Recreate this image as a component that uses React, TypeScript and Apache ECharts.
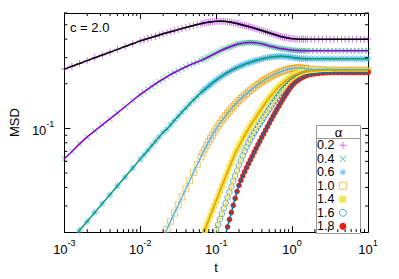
import React, { useEffect, useRef } from 'react';
import * as echarts from 'echarts';

// log10(t) sample positions
const LOG10_T = [
  -3.0, -2.9, -2.8, -2.7, -2.6, -2.5, -2.4, -2.3, -2.2, -2.1, -2.0,
  -1.95, -1.9, -1.85, -1.8, -1.75, -1.7, -1.65, -1.6, -1.55, -1.5, -1.45, -1.4, -1.35, -1.3, -1.25, -1.2,
  -1.175, -1.15, -1.125, -1.1, -1.075, -1.05, -1.025, -1.0, -0.975, -0.95, -0.925, -0.9, -0.875, -0.85,
  -0.825, -0.8, -0.775, -0.75, -0.725, -0.7, -0.675, -0.65, -0.625, -0.6, -0.575, -0.55, -0.525, -0.5,
  -0.475, -0.45, -0.425, -0.4, -0.375, -0.35, -0.325, -0.3, -0.275, -0.25, -0.225, -0.2, -0.175, -0.15,
  -0.125, -0.1, -0.075, -0.05, -0.025, 0, 0.025, 0.05, 0.075, 0.1, 0.125, 0.15, 0.175, 0.2,
  0.25, 0.3, 0.35, 0.4, 0.45, 0.5, 0.55, 0.6, 0.65, 0.7, 0.75, 0.8, 0.85, 0.9, 0.95, 1.0,
];

// log10(MSD), one array per alpha
const LOG10_MSD_A02 = [
  -0.600, -0.581, -0.562, -0.543, -0.524, -0.505, -0.486, -0.467, -0.448, -0.429, -0.410,
  -0.402, -0.394, -0.386, -0.378, -0.370, -0.362, -0.355, -0.348, -0.341, -0.334, -0.327, -0.320, -0.313, -0.306, -0.300, -0.294,
  -0.291, -0.288, -0.286, -0.284, -0.282, -0.280, -0.279, -0.278, -0.277, -0.277, -0.277, -0.278, -0.279, -0.280,
  -0.282, -0.284, -0.287, -0.290, -0.293, -0.296, -0.299, -0.303, -0.306, -0.310, -0.313, -0.317, -0.320, -0.324,
  -0.328, -0.332, -0.336, -0.340, -0.344, -0.348, -0.352, -0.356, -0.360, -0.364, -0.368, -0.372, -0.376, -0.380,
  -0.383, -0.386, -0.389, -0.391, -0.393, -0.395, -0.396, -0.397, -0.398, -0.398, -0.398, -0.398, -0.398, -0.398,
  -0.398, -0.398, -0.398, -0.398, -0.398, -0.398, -0.398, -0.398, -0.398, -0.398, -0.398, -0.398, -0.398, -0.398, -0.398, -0.398,
];
const LOG10_MSD_A04 = [
  -1.205, -1.155, -1.104, -1.057, -1.017, -0.976, -0.936, -0.895, -0.854, -0.812, -0.771,
  -0.753, -0.735, -0.717, -0.699, -0.683, -0.668, -0.652, -0.636, -0.623, -0.610, -0.597, -0.584, -0.573, -0.562, -0.552, -0.541,
  -0.536, -0.530, -0.524, -0.517, -0.511, -0.504, -0.498, -0.491, -0.485, -0.478, -0.472, -0.466, -0.461, -0.456,
  -0.451, -0.446, -0.441, -0.437, -0.433, -0.430, -0.427, -0.425, -0.423, -0.422, -0.421, -0.421, -0.421, -0.422,
  -0.423, -0.425, -0.427, -0.430, -0.433, -0.436, -0.440, -0.444, -0.447, -0.450, -0.453, -0.456, -0.459, -0.461,
  -0.463, -0.465, -0.467, -0.469, -0.471, -0.472, -0.473, -0.474, -0.475, -0.476, -0.477, -0.477, -0.477, -0.477,
  -0.477, -0.477, -0.477, -0.477, -0.477, -0.477, -0.477, -0.477, -0.477, -0.477, -0.477, -0.477, -0.477, -0.477, -0.477, -0.477,
];
const LOG10_MSD_A06 = [
  -1.812, -1.749, -1.687, -1.627, -1.567, -1.507, -1.447, -1.387, -1.327, -1.267, -1.207,
  -1.177, -1.147, -1.117, -1.087, -1.057, -1.027, -1.005, -0.976, -0.947, -0.918, -0.890, -0.862, -0.835, -0.809, -0.784, -0.760,
  -0.748, -0.737, -0.726, -0.715, -0.704, -0.694, -0.684, -0.674, -0.665, -0.656, -0.647, -0.639, -0.631, -0.623,
  -0.616, -0.609, -0.602, -0.596, -0.590, -0.584, -0.578, -0.573, -0.568, -0.563, -0.558, -0.554, -0.550, -0.546,
  -0.542, -0.538, -0.535, -0.532, -0.529, -0.526, -0.523, -0.521, -0.519, -0.517, -0.516, -0.515, -0.514, -0.514,
  -0.514, -0.515, -0.516, -0.517, -0.519, -0.521, -0.523, -0.525, -0.526, -0.528, -0.529, -0.530, -0.530, -0.531,
  -0.531, -0.531, -0.531, -0.531, -0.531, -0.531, -0.531, -0.531, -0.531, -0.531, -0.531, -0.531, -0.531, -0.531, -0.531, -0.531,
];
const LOG10_MSD_A10 = [
  null, null, null, null, null, null, null, null, null, null, null,
  null, null, null, null, -1.789, -1.734, -1.680, -1.625, -1.571, -1.516, -1.462, -1.407, -1.353, -1.298, -1.244, -1.191,
  -1.165, -1.139, -1.114, -1.090, -1.067, -1.045, -1.024, -1.004, -0.985, -0.966, -0.948, -0.931, -0.914, -0.898,
  -0.882, -0.867, -0.852, -0.838, -0.825, -0.812, -0.799, -0.787, -0.776, -0.765, -0.754, -0.743, -0.733, -0.723,
  -0.713, -0.704, -0.695, -0.686, -0.677, -0.669, -0.661, -0.654, -0.647, -0.641, -0.635, -0.629, -0.623, -0.618,
  -0.613, -0.609, -0.605, -0.601, -0.598, -0.596, -0.594, -0.593, -0.592, -0.592, -0.593, -0.594, -0.596, -0.597,
  -0.600, -0.602, -0.604, -0.605, -0.606, -0.607, -0.607, -0.607, -0.607, -0.607, -0.607, -0.607, -0.607, -0.607, -0.607, -0.607,
];
const LOG10_MSD_A14 = [
  null, null, null, null, null, null, null, null, null, null, null,
  null, null, null, null, null, null, null, null, null, null, null, null, null, null, -1.820, -1.753,
  -1.719, -1.685, -1.652, -1.619, -1.586, -1.553, -1.520, -1.488, -1.455, -1.422, -1.389, -1.357, -1.325, -1.293,
  -1.262, -1.231, -1.200, -1.170, -1.144, -1.119, -1.095, -1.071, -1.048, -1.026, -1.004, -0.983, -0.963, -0.944,
  -0.924, -0.904, -0.885, -0.866, -0.847, -0.829, -0.811, -0.795, -0.779, -0.764, -0.749, -0.735, -0.721, -0.708,
  -0.696, -0.685, -0.675, -0.665, -0.656, -0.648, -0.641, -0.635, -0.630, -0.626, -0.622, -0.619, -0.617, -0.615,
  -0.613, -0.612, -0.612, -0.612, -0.612, -0.612, -0.612, -0.612, -0.612, -0.612, -0.612, -0.612, -0.612, -0.612, -0.612, -0.612,
];
const LOG10_MSD_A16 = [
  null, null, null, null, null, null, null, null, null, null, null,
  null, null, null, null, null, null, null, null, null, null, null, null, null, null, null, null,
  null, null, null, null, -1.795, -1.758, -1.722, -1.685, -1.649, -1.612, -1.576, -1.539, -1.503, -1.466,
  -1.430, -1.393, -1.356, -1.319, -1.284, -1.249, -1.215, -1.183, -1.153, -1.125, -1.099, -1.075, -1.052, -1.030,
  -1.009, -0.988, -0.968, -0.948, -0.928, -0.908, -0.889, -0.870, -0.851, -0.832, -0.813, -0.795, -0.777, -0.760,
  -0.744, -0.729, -0.715, -0.702, -0.690, -0.679, -0.669, -0.660, -0.652, -0.645, -0.639, -0.634, -0.630, -0.627,
  -0.623, -0.621, -0.619, -0.618, -0.618, -0.618, -0.618, -0.618, -0.618, -0.618, -0.618, -0.618, -0.618, -0.618, -0.618, -0.618,
];
const LOG10_MSD_A18 = [
  null, null, null, null, null, null, null, null, null, null, null,
  null, null, null, null, null, null, null, null, null, null, null, null, null, null, null, null,
  null, null, null, null, null, null, null, null, null, null, -1.809, -1.760, -1.712, -1.663,
  -1.614, -1.566, -1.518, -1.471, -1.425, -1.384, -1.350, -1.320, -1.292, -1.265, -1.238, -1.212, -1.186, -1.160,
  -1.135, -1.110, -1.085, -1.060, -1.036, -1.012, -0.988, -0.964, -0.940, -0.917, -0.894, -0.871, -0.849, -0.827,
  -0.806, -0.785, -0.765, -0.745, -0.727, -0.711, -0.697, -0.685, -0.675, -0.666, -0.658, -0.652, -0.646, -0.642,
  -0.636, -0.632, -0.629, -0.627, -0.625, -0.624, -0.623, -0.623, -0.623, -0.623, -0.623, -0.623, -0.623, -0.623, -0.623, -0.623,
];

const ALPHA_LABELS = ['0.2', '0.4', '0.6', '1.0', '1.4', '1.6', '1.8'];
const SERIES_DATA = [LOG10_MSD_A02, LOG10_MSD_A04, LOG10_MSD_A06, LOG10_MSD_A10, LOG10_MSD_A14, LOG10_MSD_A16, LOG10_MSD_A18];

// axis ticks (exponents) and minor tick multipliers
const X_MAJOR = [-3, -2, -1, 0, 1];
const X_DECADES = [-3, -2, -1, 0];
const Y_MAJOR = [-1];
const MINOR_K = [2, 3, 4, 5, 6, 7, 8, 9];
const Y_MIN_VAL = 0.02;
const Y_MAX_VAL = 0.6;

const FONT = 'Liberation Sans, Arial, Helvetica, sans-serif';
const PLUS = 'path://M4.3,0h1.4v4.3h4.3v1.4h-4.3v4.3h-1.4v-4.3h-4.3v-1.4h4.3z';
const CROSS = 'path://M1.5,0.5L9.5,8.5L8.5,9.5L0.5,1.5Z M9.5,1.5L1.5,9.5L0.5,8.5L8.5,0.5Z';
const STAR = 'path://M4.3,0h1.4v4.3h4.3v1.4h-4.3v4.3h-1.4v-4.3h-4.3v-1.4h4.3z M2,1L9,8L8,9L1,2Z M9,2L2,9L1,8L8,1Z';

const STYLES = [
  { line: '#000000', symbol: PLUS, size: 7, item: { color: '#9400d3', opacity: 0.55 } },
  { line: '#9400d3', symbol: CROSS, size: 6, item: { color: '#009e73', opacity: 0.5 } },
  { line: '#009e73', symbol: STAR, size: 7, item: { color: '#56b4e9', opacity: 0.75 } },
  { line: '#56b4e9', symbol: 'rect', size: 6, item: { color: 'rgba(0,0,0,0)', borderColor: '#e69f00', borderWidth: 1, opacity: 0.6 } },
  { line: '#e69f00', symbol: 'rect', size: 6, item: { color: '#f0e442', opacity: 0.9 } },
  { line: '#f0e442', symbol: 'circle', size: 5.5, item: { color: 'rgba(0,0,0,0)', borderColor: '#0072b2', borderWidth: 1, opacity: 0.65 } },
  { line: '#0072b2', symbol: 'circle', size: 5.5, item: { color: '#e51e10', opacity: 1 } },
];

function toPairs(arr: (number | null)[]) {
  const out: number[][] = [];
  for (let i = 0; i < LOG10_T.length; i++) {
    const v = arr[i];
    if (v === null || v === undefined) continue;
    out.push([LOG10_T[i], v]);
  }
  return out;
}

export default function App() {
  const ref = useRef<HTMLDivElement>(null);

  useEffect(() => {
    if (!ref.current) return;
    const chart = echarts.init(ref.current, undefined, { renderer: 'svg' });
    const yMin = Math.log10(Y_MIN_VAL);
    const yMax = Math.log10(Y_MAX_VAL);

    const xMinor: number[] = [];
    X_DECADES.forEach((n) => MINOR_K.forEach((k) => xMinor.push(n + Math.log10(k))));
    const yMinor: number[] = [];
    [-2, -1].forEach((n) =>
      MINOR_K.forEach((k) => {
        const v = n + Math.log10(k);
        if (v > yMin + 1e-6 && v <= yMax + 1e-6) yMinor.push(v);
      })
    );

    const rich = {
      b: { fontSize: 13, fontFamily: FONT, color: '#000', lineHeight: 18, verticalAlign: 'bottom' },
      s: { fontSize: 9, fontFamily: FONT, color: '#000', lineHeight: 10, verticalAlign: 'top' },
    };
    const fmt = (v: number) => `{b|10}{s|${Math.round(v)}}`;

    const series: any[] = [];
    ALPHA_LABELS.forEach((name, i) => {
      const st = STYLES[i];
      const data = toPairs(SERIES_DATA[i]);
      series.push({
        name,
        type: 'scatter',
        data,
        symbol: st.symbol,
        symbolSize: st.size,
        itemStyle: st.item,
        clip: true,
        silent: true,
      });
      series.push({
        name: 'fit ' + name,
        type: 'line',
        data,
        showSymbol: false,
        symbol: 'none',
        lineStyle: { color: st.line, width: 1.5 },
        clip: true,
        silent: true,
      });
    });

    series.push({
      type: 'custom',
      name: 'xminor',
      silent: true,
      z: 10,
      clip: false,
      data: xMinor.map((v) => [v, yMin]),
      renderItem: (_p: any, api: any) => {
        const v = api.value(0);
        const b = api.coord([v, yMin]);
        const t = api.coord([v, yMax]);
        return {
          type: 'group',
          children: [
            { type: 'line', shape: { x1: b[0], y1: b[1], x2: b[0], y2: b[1] - 3 }, style: { stroke: '#000', lineWidth: 1 } },
            { type: 'line', shape: { x1: t[0], y1: t[1], x2: t[0], y2: t[1] + 3 }, style: { stroke: '#000', lineWidth: 1 } },
          ],
        };
      },
    });
    series.push({
      type: 'custom',
      name: 'yminor',
      silent: true,
      z: 10,
      clip: false,
      data: yMinor.map((v) => [-3, v]),
      renderItem: (_p: any, api: any) => {
        const v = api.value(1);
        const l = api.coord([-3, v]);
        const r = api.coord([1, v]);
        return {
          type: 'group',
          children: [
            { type: 'line', shape: { x1: l[0], y1: l[1], x2: l[0] + 3, y2: l[1] }, style: { stroke: '#000', lineWidth: 1 } },
            { type: 'line', shape: { x1: r[0], y1: r[1], x2: r[0] - 3, y2: r[1] }, style: { stroke: '#000', lineWidth: 1 } },
          ],
        };
      },
    });

    const axisLine = { show: true, onZero: false, lineStyle: { color: '#000', width: 1 } };

    chart.setOption({
      animation: false,
      backgroundColor: '#fff',
      grid: { left: 57, right: 31, top: 13, bottom: 43, containLabel: false },
      xAxis: [
        {
          type: 'value', min: -3, max: 1, position: 'bottom',
          axisLine,
          axisTick: { show: true, inside: true, length: 6, customValues: X_MAJOR, lineStyle: { color: '#000' } },
          axisLabel: { show: true, customValues: X_MAJOR, formatter: fmt, rich, margin: 6 },
          splitLine: { show: false },
          name: 't', nameLocation: 'middle', nameGap: 27,
          nameTextStyle: { fontSize: 13, fontFamily: FONT, color: '#000' },
        },
        {
          type: 'value', min: -3, max: 1, position: 'top',
          axisLine,
          axisTick: { show: true, inside: true, length: 6, customValues: X_MAJOR, lineStyle: { color: '#000' } },
          axisLabel: { show: false },
          splitLine: { show: false },
        },
      ],
      yAxis: [
        {
          type: 'value', min: yMin, max: yMax, position: 'left',
          axisLine,
          axisTick: { show: true, inside: true, length: 6, customValues: Y_MAJOR, lineStyle: { color: '#000' } },
          axisLabel: { show: true, customValues: Y_MAJOR, formatter: fmt, rich, margin: 10 },
          splitLine: { show: false },
          name: 'MSD', nameLocation: 'middle', nameGap: 40,
          nameTextStyle: { fontSize: 13, fontFamily: FONT, color: '#000' },
        },
        {
          type: 'value', min: yMin, max: yMax, position: 'right',
          axisLine,
          axisTick: { show: true, inside: true, length: 6, customValues: Y_MAJOR, lineStyle: { color: '#000' } },
          axisLabel: { show: false },
          splitLine: { show: false },
        },
      ],
      legend: {
        orient: 'vertical',
        left: 317,
        top: 138.5,
        align: 'right',
        padding: 0,
        itemGap: 0,
        itemWidth: 7,
        itemHeight: 7,
        selectedMode: false,
        z: 10,
        textStyle: { fontSize: 12.5, fontFamily: FONT, color: '#000', lineHeight: 13.5 },
        data: ALPHA_LABELS.map((name, i) => {
          const st = STYLES[i];
          const d: any = { name };
          if ((st.item as any).borderWidth) d.itemStyle = { borderWidth: 1 };
          return d;
        }),
      },
      graphic: [
        {
          type: 'text', x: 70, y: 27, z: 5,
          style: { text: 'c = 2.0', font: `13px ${FONT}`, fill: '#000', verticalAlign: 'middle', align: 'left' },
        },
        {
          type: 'rect', z: 4,
          shape: { x: 316.5, y: 125.5, width: 44, height: 108 },
          style: { fill: '#fff', stroke: '#999', lineWidth: 1 },
        },
        {
          type: 'line', z: 4,
          shape: { x1: 316.5, y1: 138.5, x2: 360.5, y2: 138.5 },
          style: { stroke: '#999', lineWidth: 1 },
        },
        {
          type: 'text', x: 338.5, y: 132, z: 5,
          style: { text: 'α', font: `13px ${FONT}`, fill: '#000', verticalAlign: 'middle', align: 'center' },
        },
      ],
      series,
    });

    return () => chart.dispose();
  }, []);

  return (
    <div
      ref={ref}
      style={{ position: 'fixed', left: 0, top: 0, width: 399, height: 279, background: '#fff' }}
    />
  );
}
